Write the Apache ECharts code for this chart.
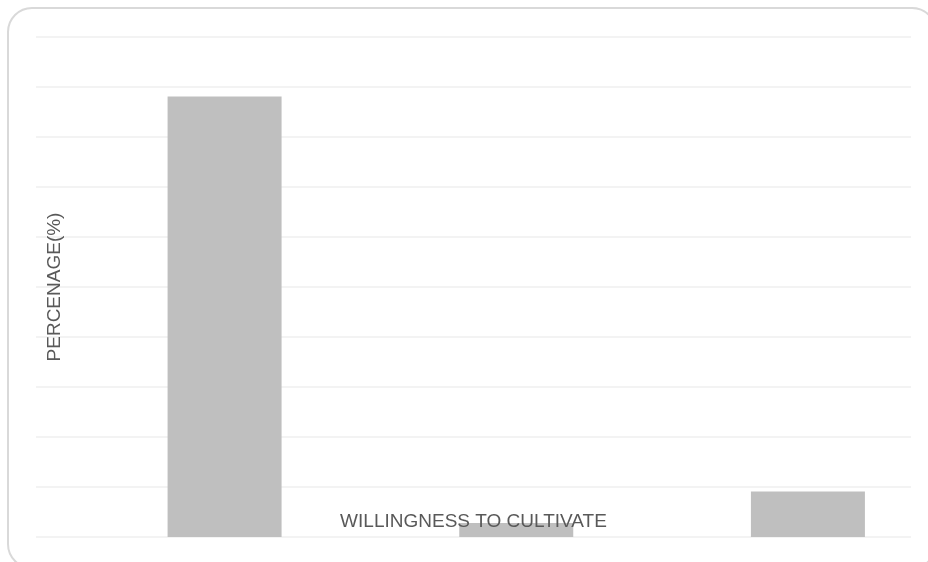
<!DOCTYPE html>
<html>
<head>
<meta charset="utf-8">
<script src="https://cdn.jsdelivr.net/npm/echarts@6/dist/echarts.min.js"></script>
<style>
  html, body { margin: 0; padding: 0; background: #fff; }
  #main { width: 928px; height: 562px; }
</style>
</head>
<body>
<div id="main"></div>
<script>
// willingness categories (labels hidden in the original)
var categories = ['Willing', 'Unwilling', 'Not sure'];
var percentage = [88.1, 2.8, 9.1];
// empty leading series, it only shifts the bars like the original layout
var spacer = [null, null, null];

var chart = echarts.init(document.getElementById('main'));

var labelFont = {
    color: '#595959',
    fontSize: 19,
    fontFamily: 'Liberation Sans'
};

var option = {
    animation: false,
    graphic: [{
        type: 'rect',
        shape: {x: 8, y: 8, width: 928, height: 560, r: 24},
        style: {fill: 'none', stroke: '#d9d9d9', lineWidth: 2},
        z: -1
    }],
    grid: {left: 36, right: 17, top: 37, bottom: 25},
    xAxis: {
        type: 'category',
        data: categories,
        z: 5,
        name: 'WILLINGNESS TO CULTIVATE',
        nameLocation: 'middle',
        nameGap: -25,
        nameTextStyle: labelFont,
        axisLine: {show: false},
        axisTick: {show: false},
        axisLabel: {show: false}
    },
    yAxis: {
        type: 'value',
        min: 0,
        max: 100,
        interval: 10,
        name: 'PERCENAGE(%)',
        nameLocation: 'middle',
        nameRotate: 90,
        nameGap: -28,
        nameTextStyle: labelFont,
        axisLine: {show: false},
        axisTick: {show: false},
        axisLabel: {show: false},
        splitLine: {lineStyle: {color: '#efefef', width: 1.5}}
    },
    series: [
        {
            type: 'bar',
            data: spacer,
            barWidth: 114,
            barGap: '-25%'
        },
        {
            type: 'bar',
            data: percentage,
            barWidth: 114,
            itemStyle: {color: '#bfbfbf'},
            z: 1
        }
    ]
};

chart.setOption(option);
</script>
</body>
</html>
